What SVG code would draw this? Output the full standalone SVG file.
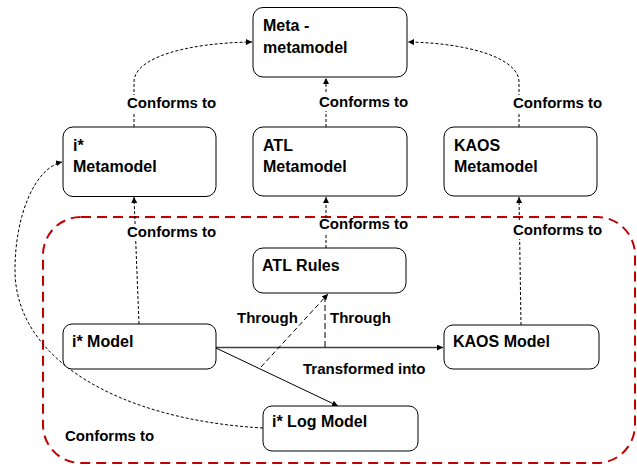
<svg xmlns="http://www.w3.org/2000/svg" width="637" height="467" viewBox="0 0 637 467">
<defs>
<style>
.node rect{fill:#fff;stroke:#000;stroke-width:1}
.node text,.lbl{font-family:"Liberation Sans",Arial,sans-serif;font-weight:bold;fill:#000}
.node text{font-size:16px}
.lbl{font-size:15px}
.dash{fill:none;stroke:#000;stroke-width:1;stroke-dasharray:3 2}
.solid{fill:none;stroke:#000;stroke-width:1}
.bg{fill:#fff}
</style>
<marker id="ah" viewBox="0 0 6 6" refX="6" refY="3" markerWidth="6" markerHeight="6" markerUnits="userSpaceOnUse" orient="auto">
<path d="M0,0 L6,3 L0,6 z" fill="#000"/>
</marker>
</defs>
<rect width="637" height="467" fill="#fff"/>
<rect id="scope" x="43" y="217" width="592" height="246" rx="38" fill="none" stroke="#c00000" stroke-width="2" stroke-dasharray="10 6"/>
<g id="connectors">
<path class="dash" d="M134 127 L134 82 C134 58 185 43 252 42" marker-end="url(#ah)"/>
<path class="dash" d="M326 127 L326 78" marker-end="url(#ah)"/>
<path class="dash" d="M519 127 L519 82 C519 58 468 43 408 42" marker-end="url(#ah)"/>
<path class="dash" d="M139 324 L134 197" marker-end="url(#ah)"/>
<path class="dash" d="M326 248 L326 197" marker-end="url(#ah)"/>
<path class="dash" d="M521 325 L519 197" marker-end="url(#ah)"/>
<path class="solid" d="M216 347.5 L443 347.5" style="stroke:#404040;stroke-width:1.5" marker-end="url(#ah)"/>
<path class="solid" d="M216 348 L338 406" marker-end="url(#ah)"/>
<path class="dash" d="M261 367 L328 294" style="stroke-dasharray:5 3" marker-end="url(#ah)"/>
<path class="dash" d="M325 347 L325 294" style="stroke-dasharray:6 3"/>
<path class="dash" d="M263 428 C120 420 15 360 15 270 C15 215 35 168 62 162" marker-end="url(#ah)"/>
</g>
<g id="labels">
<rect class="bg" x="125" y="95" width="93" height="17"/>
<text class="lbl" x="127" y="108">Conforms to</text>
<rect class="bg" x="317" y="94" width="93" height="17"/>
<text class="lbl" x="319" y="107">Conforms to</text>
<rect class="bg" x="511" y="95" width="93" height="17"/>
<text class="lbl" x="513" y="108">Conforms to</text>
<rect class="bg" x="125" y="224" width="93" height="17"/>
<text class="lbl" x="127" y="237">Conforms to</text>
<rect class="bg" x="317" y="219" width="93" height="15"/>
<text class="lbl" x="319" y="229">Conforms to</text>
<rect class="bg" x="511" y="222" width="93" height="17"/>
<text class="lbl" x="513" y="235">Conforms to</text>
<text class="lbl" x="65" y="441">Conforms to</text>
<text class="lbl" x="237" y="323">Through</text>
<text class="lbl" x="330" y="323">Through</text>
<text class="lbl" x="303" y="374">Transformed into</text>
</g>
<g id="meta" class="node">
<rect x="253" y="7.5" width="154" height="69.5" rx="10"/>
<text x="263" y="31">Meta -</text>
<text x="263" y="53">metamodel</text>
</g>
<g id="istar-mm" class="node">
<rect x="63" y="127" width="153" height="69.5" rx="10"/>
<text x="73" y="151">i*</text>
<text x="73" y="172">Metamodel</text>
</g>
<g id="atl-mm" class="node">
<rect x="253" y="127" width="154" height="69" rx="10"/>
<text x="263" y="151">ATL</text>
<text x="263" y="172">Metamodel</text>
</g>
<g id="kaos-mm" class="node">
<rect x="444" y="127" width="153" height="69" rx="10"/>
<text x="454" y="151">KAOS</text>
<text x="454" y="172">Metamodel</text>
</g>
<g id="atl-rules" class="node">
<rect x="253" y="248" width="153" height="45" rx="10"/>
<text x="262" y="271">ATL Rules</text>
</g>
<g id="istar-model" class="node">
<rect x="63" y="324" width="153" height="45" rx="9"/>
<text x="72" y="347">i* Model</text>
</g>
<g id="kaos-model" class="node">
<rect x="444" y="325" width="155" height="44" rx="9"/>
<text x="453" y="347">KAOS Model</text>
</g>
<g id="istar-log" class="node">
<rect x="263" y="406" width="155" height="45" rx="9"/>
<text x="272" y="427">i* Log Model</text>
</g>
</svg>
